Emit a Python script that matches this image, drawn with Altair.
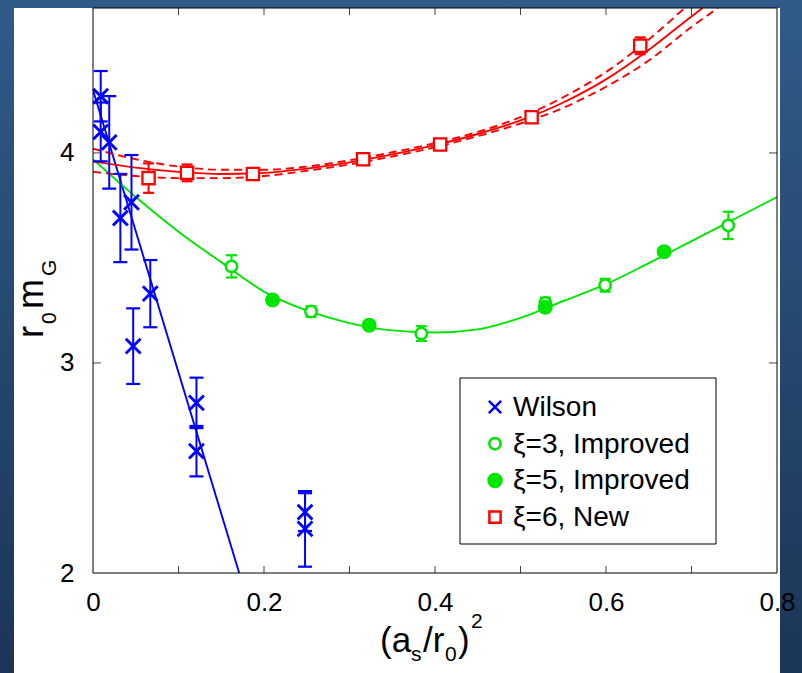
import altair as alt
import pandas as pd

# ---------------- data ----------------
series_names = ["Wilson", "ξ=3, Improved", "ξ=5, Improved", "ξ=6, New"]

wilson_x = [0.009, 0.009, 0.019, 0.032, 0.045, 0.047, 0.067, 0.121, 0.121, 0.248, 0.248]
wilson_y = [4.27, 4.10, 4.05, 3.69, 3.765, 3.08, 3.33, 2.81, 2.58, 2.29, 2.21]
wilson_err = [0.12, 0.14, 0.22, 0.21, 0.225, 0.18, 0.16, 0.12, 0.12, 0.09, 0.18]

xi3_x = [0.162, 0.255, 0.384, 0.529, 0.599, 0.743]
xi3_y = [3.46, 3.245, 3.14, 3.286, 3.37, 3.655]
xi3_err = [0.053, 0.025, 0.035, 0.025, 0.03, 0.065]

xi5_x = [0.210, 0.323, 0.529, 0.668]
xi5_y = [3.30, 3.18, 3.265, 3.53]
xi5_err = [0.02, 0.015, 0.02, 0.015]

xi6_x = [0.065, 0.110, 0.187, 0.316, 0.406, 0.513, 0.640]
xi6_y = [3.88, 3.905, 3.90, 3.97, 4.04, 4.17, 4.51]
xi6_err = [0.07, 0.04, 0.02, 0.02, 0.02, 0.02, 0.04]

# fit curves
wilson_fit_x = [0.0, 0.171]
wilson_fit_y = [4.30, 2.0]

impr_fit_x = [0.0, 0.05, 0.1, 0.15, 0.2, 0.25, 0.3, 0.35, 0.4, 0.45, 0.5, 0.55, 0.6, 0.65, 0.7, 0.75, 0.8]
impr_fit_y = [3.97, 3.79, 3.625, 3.48, 3.34, 3.25, 3.19, 3.155, 3.145, 3.16, 3.215, 3.295, 3.375, 3.475, 3.58, 3.685, 3.79]

new_fit_x = [0.0, 0.05, 0.1, 0.15, 0.2, 0.25, 0.3, 0.35, 0.4, 0.45, 0.5, 0.55, 0.6, 0.65, 0.7, 0.713]
new_fit_y = [3.96, 3.93, 3.91, 3.90, 3.905, 3.925, 3.955, 3.993, 4.037, 4.09, 4.155, 4.24, 4.35, 4.49, 4.65, 4.69]

new_up_x = [0.0, 0.05, 0.1, 0.15, 0.2, 0.25, 0.3, 0.35, 0.4, 0.45, 0.5, 0.55, 0.6, 0.65, 0.692]
new_up_y = [4.02, 3.97, 3.935, 3.92, 3.92, 3.935, 3.965, 4.003, 4.047, 4.10, 4.17, 4.265, 4.385, 4.54, 4.69]

new_lo_x = [0.0, 0.05, 0.1, 0.15, 0.2, 0.25, 0.3, 0.35, 0.4, 0.45, 0.5, 0.55, 0.6, 0.65, 0.7, 0.731]
new_lo_y = [3.91, 3.89, 3.88, 3.88, 3.89, 3.915, 3.945, 3.983, 4.027, 4.08, 4.14, 4.215, 4.315, 4.44, 4.60, 4.69]

x_label_values = [0, 0.2, 0.4, 0.6, 0.8]
y_label_values = [2, 3, 4]
x_tick_values = [0.1, 0.2, 0.3, 0.4, 0.5, 0.6, 0.7]
y_tick_values = [3, 4]

# ---------------- styling ----------------
FONT = "Liberation Sans"
W, H = 684, 565
PL, PT = 93, 8
BLUE, GREEN, RED = "#0000ff", "#00e600", "#ff0000"
colors = [BLUE, GREEN, GREEN, RED]
fills = ["transparent", "white", GREEN, "white"]
shapes = ["M-1,-1L1,1M-1,1L1,-1", "circle", "circle", "square"]
msize = {"Wilson": 220, "ξ=3, Improved": 130, "ξ=5, Improved": 155, "ξ=6, New": 150}
mstroke = {"Wilson": 2.9, "ξ=3, Improved": 2.5, "ξ=5, Improved": 2.5, "ξ=6, New": 2.3}
capw = {"Wilson": 14, "ξ=3, Improved": 11, "ξ=5, Improved": 11, "ξ=6, New": 11}
legsize = {"Wilson": 150, "ξ=3, Improved": 130, "ξ=5, Improved": 170, "ξ=6, New": 125}

rows = []
for name, xs_, ys_, es_ in [
    ("Wilson", wilson_x, wilson_y, wilson_err),
    ("ξ=3, Improved", xi3_x, xi3_y, xi3_err),
    ("ξ=5, Improved", xi5_x, xi5_y, xi5_err),
    ("ξ=6, New", xi6_x, xi6_y, xi6_err),
]:
    for x, y, e in zip(xs_, ys_, es_):
        rows.append({"series": name, "x": x, "y": y, "lo": y - e, "hi": y + e})
pts = pd.DataFrame(rows)
pts["msize"] = pts["series"].map(msize)
pts["mstroke"] = pts["series"].map(mstroke)
pts["cap"] = pts["series"].map(capw)

one = pd.DataFrame({"a": [0]})

xscale = alt.Scale(domain=[0, 0.8], nice=False, zero=False)
yscale = alt.Scale(domain=[2, 4.69], nice=False, zero=False)
colscale = alt.Scale(domain=series_names, range=colors)
shapescale = alt.Scale(domain=series_names, range=shapes)
strokescale = alt.Scale(domain=series_names, range=colors)
fillscale = alt.Scale(domain=series_names, range=fills)

xaxis = alt.Axis(values=x_label_values, format="~g", title=None, ticks=False, domain=False, grid=False,
                 labelFont=FONT, labelFontSize=26, labelColor="black", labelPadding=16,
                 labelFlush=False, labelOverlap=False, zindex=1)
yaxis = alt.Axis(values=y_label_values, format="~g", title=None, ticks=False, domain=False, grid=False,
                 labelFont=FONT, labelFontSize=26, labelColor="black", labelPadding=19,
                 labelFlush=False, labelOverlap=False, zindex=1)

# background (slide) and white plate
bg = alt.Chart(one).mark_rect().encode(
    x=alt.value(-PL), x2=alt.value(802 - PL), y=alt.value(-PT), y2=alt.value(673 - PT),
    fill=alt.value(alt.LinearGradient(gradient="linear", x1=0, x2=0, y1=0, y2=1,
                                      stops=[alt.GradientStop(color="#305b88", offset=0),
                                             alt.GradientStop(color="#1b3556", offset=1)])))
plate = alt.Chart(one).mark_rect(color="white").encode(
    x=alt.value(14 - PL), x2=alt.value(780 - PL), y=alt.value(0), y2=alt.value(673 - PT))


def curve(xv, yv, color, dash=None):
    df = pd.DataFrame({"x": xv, "y": yv, "i": range(len(xv))})
    kw = dict(color=color, strokeWidth=1.9, clip=True, interpolate="monotone")
    if dash:
        kw["strokeDash"] = dash
    return alt.Chart(df).mark_line(**kw).encode(
        x=alt.X("x:Q", scale=xscale, axis=xaxis), y=alt.Y("y:Q", scale=yscale, axis=yaxis), order="i:Q")


lines = [
    curve(wilson_fit_x, wilson_fit_y, BLUE),
    curve(impr_fit_x, impr_fit_y, GREEN),
    curve(new_up_x, new_up_y, RED, [8, 5]),
    curve(new_lo_x, new_lo_y, RED, [8, 5]),
    curve(new_fit_x, new_fit_y, RED),
]

base = alt.Chart(pts)
errs = base.mark_rule(strokeWidth=2).encode(
    x=alt.X("x:Q", scale=xscale), y=alt.Y("lo:Q", scale=yscale), y2="hi:Q",
    color=alt.Color("series:N", scale=colscale, legend=None))
cap_hi = base.mark_tick(orient="horizontal", thickness=2.2, opacity=1).encode(
    x="x:Q", y="hi:Q", size=alt.Size("cap:Q", scale=None),
    color=alt.Color("series:N", scale=colscale, legend=None))
cap_lo = base.mark_tick(orient="horizontal", thickness=2.2, opacity=1).encode(
    x="x:Q", y="lo:Q", size=alt.Size("cap:Q", scale=None),
    color=alt.Color("series:N", scale=colscale, legend=None))

points = base.mark_point(opacity=1).encode(
    x="x:Q", y="y:Q",
    shape=alt.Shape("series:N", scale=shapescale, legend=None),
    stroke=alt.Stroke("series:N", scale=strokescale, legend=None),
    fill=alt.Fill("series:N", scale=fillscale, legend=None),
    size=alt.Size("msize:Q", scale=None),
    strokeWidth=alt.StrokeWidth("mstroke:Q", scale=None),
)

# inward ticks on all four sides
xt = pd.DataFrame({"t": x_tick_values})
yt = pd.DataFrame({"t": y_tick_values})
tick_col = "#444444"
tb = alt.Chart(xt).mark_rule(color=tick_col, strokeWidth=1).encode(x="t:Q", y=alt.value(H), y2=alt.value(H - 7))
tt = alt.Chart(xt).mark_rule(color=tick_col, strokeWidth=1).encode(x="t:Q", y=alt.value(0), y2=alt.value(7))
tl = alt.Chart(yt).mark_rule(color=tick_col, strokeWidth=1).encode(y="t:Q", x=alt.value(0), x2=alt.value(8))
tr = alt.Chart(yt).mark_rule(color=tick_col, strokeWidth=1).encode(y="t:Q", x=alt.value(W), x2=alt.value(W - 8))

frame = alt.Chart(one).mark_rect(fillOpacity=0, stroke="black", strokeWidth=1).encode(
    x=alt.value(0), x2=alt.value(W), y=alt.value(0), y2=alt.value(H))

# ---- legend (boxed, inside the plot) ----
LX0, LY0, LX1, LY1 = 460 - PL, 378 - PT, 716 - PL, 544 - PT
leg_df = pd.DataFrame({"series": series_names})
leg_df["ly"] = [407 - PT + i * 36.7 for i in range(len(series_names))]
leg_df["ls"] = leg_df["series"].map(legsize)
leg_box = alt.Chart(one).mark_rect(fill="white", stroke="black", strokeWidth=1).encode(
    x=alt.value(LX0), x2=alt.value(LX1), y=alt.value(LY0), y2=alt.value(LY1))
leg_sym = alt.Chart(leg_df).mark_point(opacity=1, strokeWidth=2.5).encode(
    x=alt.value(495 - PL), y=alt.Y("ly:Q", scale=None),
    shape=alt.Shape("series:N", scale=shapescale, legend=None),
    stroke=alt.Stroke("series:N", scale=strokescale, legend=None),
    fill=alt.Fill("series:N", scale=fillscale, legend=None),
    size=alt.Size("ls:Q", scale=None),
)
leg_txt = alt.Chart(leg_df).mark_text(font=FONT, fontSize=28, align="left", baseline="middle",
                                      color="black", dy=1).encode(
    x=alt.value(513 - PL), y=alt.Y("ly:Q", scale=None), text="series:N")


def txt(s, x, y, size, angle=0):
    kw = dict(text=s, font=FONT, fontSize=size, align="left", baseline="alphabetic", color="black")
    if angle:
        kw["angle"] = angle
    return alt.Chart(one).mark_text(**kw).encode(x=alt.value(x - PL), y=alt.value(y - PT))


titles = [
    # x title: (a_s/r_0)^2
    txt("(a", 380, 652, 35),
    txt("s", 411, 661, 21),
    txt("/r", 423, 652, 35),
    txt("0", 445, 661, 21),
    txt(")", 458, 652, 35),
    txt("2", 471, 628, 21),
    # y title: r_0 m_G
    txt("r", 43, 338, 36, 270),
    txt("0", 56, 324, 21, 270),
    txt("m", 43, 309, 36, 270),
    txt("G", 56, 276, 21, 270),
]

chart = alt.layer(
    bg, plate, *lines, errs, cap_hi, cap_lo, points, tb, tt, tl, tr, frame,
    leg_box, leg_sym, leg_txt, *titles
).properties(
    width=W, height=H,
    autosize=alt.AutoSizeParams(type="none"),
    padding={"left": PL, "top": PT, "right": 802 - PL - W, "bottom": 673 - PT - H},
    background="#25466c",
).configure_view(stroke=None)

chart.save("out.html", embed_options={"renderer": "svg", "actions": False})
